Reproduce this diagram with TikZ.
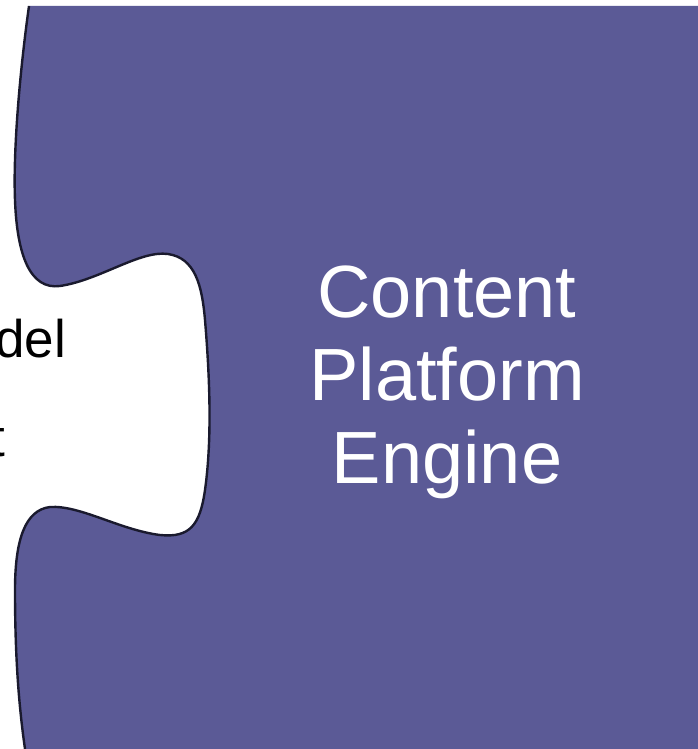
\documentclass[tikz,border=0pt]{standalone}
\usepackage{fontspec}
\setmainfont{Liberation Sans}
\definecolor{piece}{RGB}{91,90,150}
\definecolor{rim}{RGB}{26,26,46}

\begin{document}
\begin{tikzpicture}[x=1pt,y=-1pt]
	\useasboundingbox (0,0) rectangle (698,749);
	\clip (0,0) rectangle (698,749);

	% the puzzle piece
	\fill[piece] (29,6) .. controls (20,70) and (13,150) .. (15,200)
		.. controls (17,255) and (30,290) .. (60,286)
		.. controls (100,280) and (140,250) .. (168,254)
		.. controls (195,258) and (202,285) .. (205,320)
		.. controls (210,380) and (212,440) .. (205,490)
		.. controls (200,525) and (190,538) .. (160,535)
		.. controls (120,530) and (80,505) .. (50,507)
		.. controls (25,510) and (15,540) .. (15,590)
		.. controls (15,650) and (18,700) .. (25,749)
		-- (698,749) -- (698,6) -- cycle;
	\draw[rim,line width=2.4pt] (29,6) .. controls (20,70) and (13,150) .. (15,200)
		.. controls (17,255) and (30,290) .. (60,286)
		.. controls (100,280) and (140,250) .. (168,254)
		.. controls (195,258) and (202,285) .. (205,320)
		.. controls (210,380) and (212,440) .. (205,490)
		.. controls (200,525) and (190,538) .. (160,535)
		.. controls (120,530) and (80,505) .. (50,507)
		.. controls (25,510) and (15,540) .. (15,590)
		.. controls (15,650) and (18,700) .. (25,749);

	\node[white,align=center,inner sep=0,font={\fontsize{74}{83}\selectfont}] (engine) at (447,382) {Content\\Platform\\Engine};
	\node[anchor=base east,inner sep=0,font={\fontsize{53}{60}\selectfont}] (model) at (66,357) {del};
	\node[anchor=base east,inner sep=0,font={\fontsize{53}{60}\selectfont}] (tail) at (5,456) {t};
\end{tikzpicture}
\end{document}
